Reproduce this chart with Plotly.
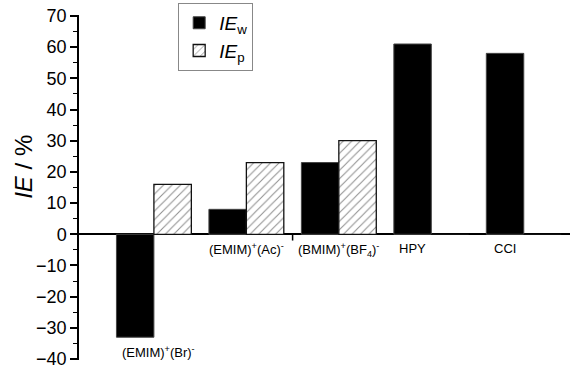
import plotly.graph_objects as go

categories = ["(EMIM)<sup>+</sup>(Br)<sup>-</sup>", "(EMIM)<sup>+</sup>(Ac)<sup>-</sup>",
              "(BMIM)<sup>+</sup>(BF<sub>4</sub>)<sup>-</sup>", "HPY", "CCI"]
ie_w = [-33, 8, 23, 61, 58]
ie_p = [16, 23, 30, 0, 0]
y_tick_vals = [-40, -30, -20, -10, 0, 10, 20, 30, 40, 50, 60, 70]

FONT = "Arial, Liberation Sans, sans-serif"
xpos = list(range(len(categories)))

fig = go.Figure()
fig.add_trace(go.Bar(
    x=xpos, y=ie_w, name="<i>IE</i><sub>w</sub>",
    marker=dict(color="black", line=dict(color="#444", width=1)),
))
fig.add_trace(go.Bar(
    x=xpos, y=ie_p, name="<i>IE</i><sub>p</sub>",
    marker=dict(color="white", line=dict(color="#111", width=1.3),
                pattern=dict(shape="/", size=6, solidity=0.18,
                             fgcolor="#222", bgcolor="white")),
))

# category labels, placed under the bars
label_dx = [0.05, 0, 0, -0.2, -0.2]
for i, cat in enumerate(categories):
    base = min(0, ie_w[i], ie_p[i])
    fig.add_annotation(x=xpos[i] + label_dx[i], y=base, text=cat, showarrow=False,
                       yanchor="top", yshift=-5,
                       font=dict(family=FONT, size=13, color="black"))

# single tick mark on the category axis
fig.add_shape(type="line", xref="x", yref="y", x0=1.5, x1=1.5, y0=0, y1=-2,
              line=dict(color="black", width=1.5))

fig.add_annotation(xref="paper", yref="paper", x=-0.112, y=0.56,
                   text="<i>IE</i> / %", textangle=-90, showarrow=False,
                   xanchor="center", yanchor="middle",
                   font=dict(family=FONT, size=24, color="black"))

fig.update_layout(
    width=579, height=370,
    margin=dict(l=79, r=9, t=15, b=10, autoexpand=False),
    paper_bgcolor="white", plot_bgcolor="white",
    barmode="group", bargap=0.19, bargroupgap=0,
    showlegend=True,
    legend=dict(x=0.202, y=1.035, xanchor="left", yanchor="top",
                bordercolor="#888", borderwidth=1, bgcolor="white",
                font=dict(family=FONT, size=19, color="black"),
                traceorder="normal", tracegroupgap=4),
    xaxis=dict(range=[-0.81, 4.5], showticklabels=False, showgrid=False,
               zeroline=False, showline=False, ticks="", automargin=False),
    yaxis=dict(range=[-40.3, 70.3], tickvals=y_tick_vals, showgrid=False,
               showline=True, linecolor="black", linewidth=1.5,
               ticks="outside", ticklen=7, tickwidth=1.5, tickcolor="black",
               ticklabeloverflow="allow", automargin=False,
               minor=dict(dtick=5, ticks="outside", ticklen=4, tickwidth=1.2, tickcolor="black"),
               zeroline=True, zerolinecolor="black", zerolinewidth=1.5,
               tickfont=dict(family=FONT, size=18, color="black")),
    font=dict(family=FONT),
)

fig.write_html("out.html")
